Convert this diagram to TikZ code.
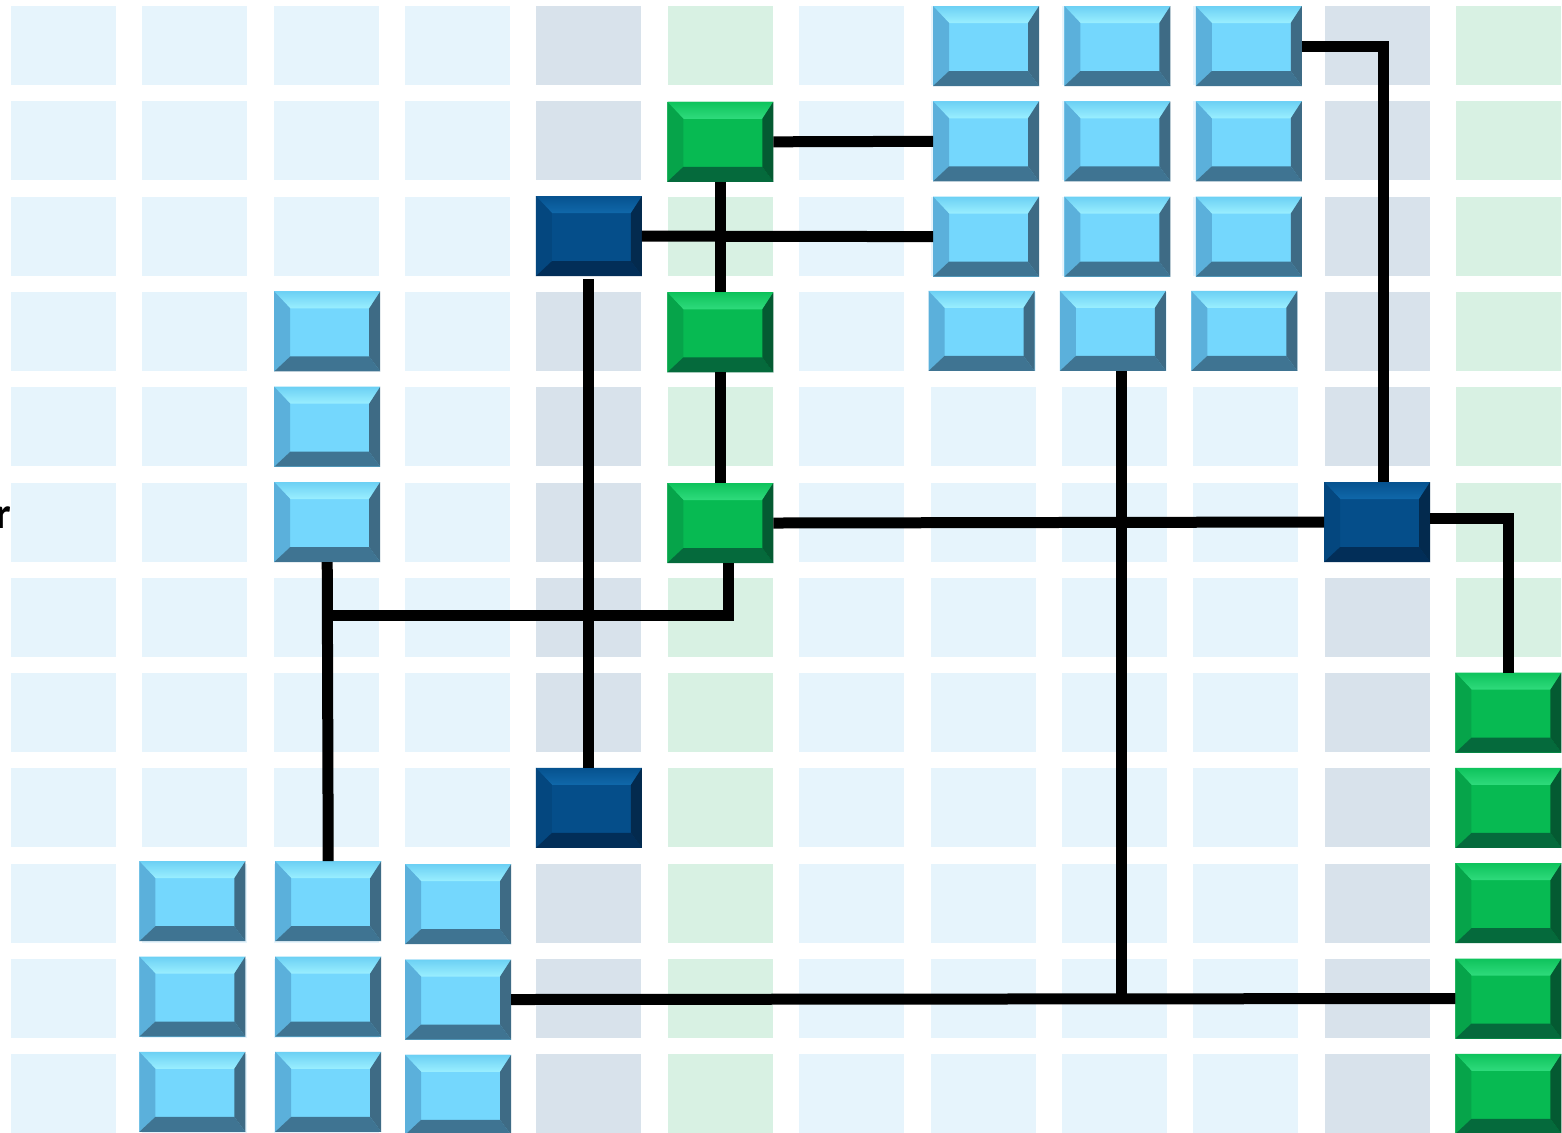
\documentclass[tikz,border=0pt]{standalone}
\usepackage{fontspec}
\newfontfamily\labelfont{Carlito}
\usetikzlibrary{calc}

% background tiles
\definecolor{cellLB}{HTML}{E6F4FC}
\definecolor{cellGY}{HTML}{D8E2EB}
\definecolor{cellGN}{HTML}{D8F1E3}
% light blue button
\definecolor{lbFace}{HTML}{74D7FD}
\definecolor{lbTopA}{HTML}{6CD0F4}
\definecolor{lbTopB}{HTML}{9AEFFF}
\definecolor{lbLeft}{HTML}{5BB0DB}
\definecolor{lbBot}{HTML}{3F7492}
\definecolor{lbRight}{HTML}{3E6B85}
% green button
\definecolor{gnFace}{HTML}{07BA52}
\definecolor{gnTopA}{HTML}{0EC35C}
\definecolor{gnTopB}{HTML}{2FDB7C}
\definecolor{gnLeft}{HTML}{06A44A}
\definecolor{gnBot}{HTML}{056A3C}
\definecolor{gnRight}{HTML}{045A32}
% dark blue button
\definecolor{dbFace}{HTML}{054E8A}
\definecolor{dbTopA}{HTML}{06528F}
\definecolor{dbTopB}{HTML}{1068AA}
\definecolor{dbLeft}{HTML}{04477F}
\definecolor{dbBot}{HTML}{022E58}
\definecolor{dbRight}{HTML}{032A4E}

% bevel widths: top, left, bottom, right
\newcommand\bevT{8.5pt}
\newcommand\bevL{8pt}
\newcommand\bevB{7.5pt}
\newcommand\bevR{5.5pt}

\tikzset{
  x=0.5pt, y=-0.5pt,
  tile/.style={minimum width=53pt, minimum height=40pt, inner sep=0pt, outer sep=0pt},
  bevel/.style n args={6}{path picture={
      \coordinate (bsw) at (path picture bounding box.south west);
      \coordinate (bne) at (path picture bounding box.north east);
      \coordinate (bnw) at (bsw |- bne);
      \coordinate (bse) at (bne |- bsw);
      \fill[#1] (bsw) rectangle (bne);
      \shade[top color=#2, bottom color=#3] (bnw) -- (bne) -- ([shift={(-\bevR,-\bevT)}]bne) -- ([shift={(\bevL,-\bevT)}]bnw) -- cycle;
      \fill[#4] (bnw) -- ([shift={(\bevL,-\bevT)}]bnw) -- ([shift={(\bevL,\bevB)}]bsw) -- (bsw) -- cycle;
      \fill[#5] (bsw) -- ([shift={(\bevL,\bevB)}]bsw) -- ([shift={(-\bevR,\bevB)}]bse) -- (bse) -- cycle;
      \fill[#6] (bse) -- ([shift={(-\bevR,\bevB)}]bse) -- ([shift={(-\bevR,-\bevT)}]bne) -- (bne) -- cycle;
  }},
  lbbtn/.style={tile, bevel={lbFace}{lbTopA}{lbTopB}{lbLeft}{lbBot}{lbRight}},
  gnbtn/.style={tile, bevel={gnFace}{gnTopA}{gnTopB}{gnLeft}{gnBot}{gnRight}},
  dbbtn/.style={tile, bevel={dbFace}{dbTopA}{dbTopB}{dbLeft}{dbBot}{dbRight}},
  wire/.style={draw=black, line width=5.5pt},
}

\begin{document}
\begin{tikzpicture}
\useasboundingbox (0,0) rectangle (1562,1132);
\clip (0,0) rectangle (1562,1132);
\fill[white] (0,0) rectangle (1562,1132);

% tile grid, coloured by column
\foreach \c/\col in {0/cellLB,1/cellLB,2/cellLB,3/cellLB,4/cellGY,5/cellGN,6/cellLB,7/cellLB,8/cellLB,9/cellLB,10/cellGY,11/cellGN}
  \foreach \r in {0,...,11}
    \fill[\col] ({11+131.36*\c},{6+95.3*\r}) rectangle ++(105,79);

% clipped label fragment at the left edge
\node[font=\labelfont\bfseries\fontsize{22}{26}\selectfont, anchor=base east, inner sep=0pt] (cut) at (11.5,528) {r};

% light blue block, upper right
\foreach \r in {0,1,2}
  \foreach \c in {7,8,9}
    \node[lbbtn] (l-\r-\c) at ({63.5+131.36*\c+3},{45.5+95.3*\r+0.5}) {};
\foreach \c in {7,8,9}
  \node[lbbtn] (l-3-\c) at ({63.5+131.36*\c-1.5},{45.5+95.3*3-0.5}) {};

% light blue column on the left
\foreach \r in {3,4,5}
  \node[lbbtn] (l-\r-2) at ({63.5+131.36*2+1},{45.5+95.3*\r}) {};

% light blue block, lower left
\foreach \r in {9,10,11}{
  \node[lbbtn] (l-\r-1) at ({63.5+131.36*1-2.5},{45.5+95.3*\r-2}) {};
  \node[lbbtn] (l-\r-2) at ({63.5+131.36*2+2},{45.5+95.3*\r-2}) {};
  \node[lbbtn] (l-\r-3) at ({63.5+131.36*3+0.5},{45.5+95.3*\r+1}) {};
}

% green buttons
\foreach \r in {1,3,5}
  \node[gnbtn] (g-\r-5) at ({63.5+131.36*5},{45.5+95.3*\r+1}) {};
\foreach \r in {7,...,11}
  \node[gnbtn] (g-\r-11) at ({63.5+131.36*11},{45.5+95.3*\r}) {};

% dark blue buttons
\node[dbbtn] (d-2-4) at ({63.5+131.36*4},{45.5+95.3*2}) {};
\node[dbbtn] (d-8-4) at ({63.5+131.36*4},{45.5+95.3*8}) {};
\node[dbbtn] (d-5-10) at ({63.5+131.36*10},{45.5+95.3*5}) {};

% connectors
\draw[wire] (g-1-5.east) -- (l-1-7.west);
\draw[wire] (g-1-5.south) -- (g-3-5.north);
\draw[wire] (d-2-4.east) -- (l-2-7.west);
\draw[wire] ([yshift=-1.5pt]d-2-4.south) -- (d-8-4.north);
\draw[wire] (g-3-5.south) -- (g-5-5.north);
\draw[wire] (g-5-5.east) -- (d-5-10.west);
\draw[wire] (l-0-9.east) -| ([xshift=3pt]d-5-10.north);
\draw[wire] ([yshift=2pt]d-5-10.east) -| (g-7-11.north);
\draw[wire] (l-10-3.east) -- (g-10-11.west);
\draw[wire] ([xshift=4.3pt]l-3-8.south) -- ([xshift=4.3pt]l-3-8.south |- l-10-3.east);
\draw[wire] (l-5-2.south) -- (l-9-2.north);
\draw[wire] ([xshift=4.3pt]g-5-5.south) |- ($(l-5-2.south)!0.18!(l-9-2.north)$);
\end{tikzpicture}
\end{document}
